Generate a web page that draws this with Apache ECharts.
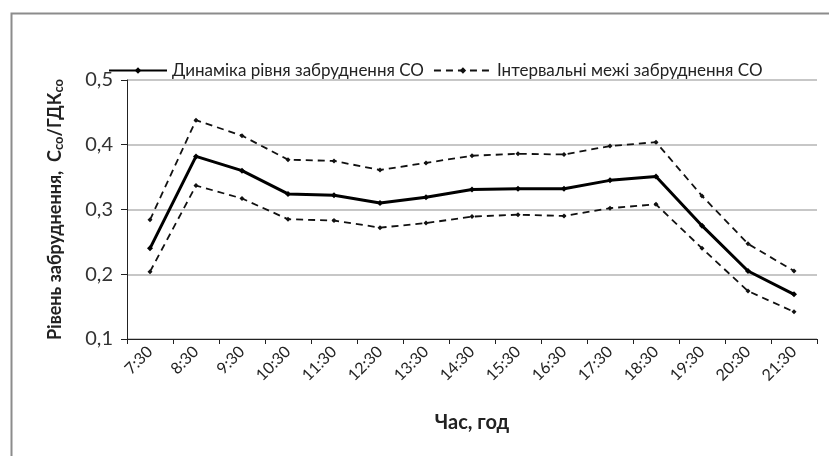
<!DOCTYPE html>
<html lang="uk">

<head>
    <meta charset="UTF-8">
    <title>Динаміка рівня забруднення СО</title>
    <style>
        html, body { margin: 0; padding: 0; background: #fff; }
        #chart { width: 829px; height: 456px; }
    </style>
</head>

<body>
    <div id="chart"></div>
</body>

<script type="text/javascript" src="https://cdn.jsdelivr.net/npm/echarts@6/dist/echarts.min.js"></script>

<script type="text/javascript">
    // час спостереження
    var hours = ['7:30', '8:30', '9:30', '10:30', '11:30', '12:30', '13:30', '14:30',
        '15:30', '16:30', '17:30', '18:30', '19:30', '20:30', '21:30'];
    // середній рівень, Cco/ГДКco
    var mainLevel = [0.240, 0.382, 0.360, 0.324, 0.322, 0.310, 0.319, 0.331,
        0.332, 0.332, 0.345, 0.351, 0.275, 0.205, 0.169];
    // верхня межа інтервалу
    var upperLevel = [0.284, 0.438, 0.414, 0.377, 0.375, 0.361, 0.372, 0.383,
        0.386, 0.385, 0.398, 0.404, 0.321, 0.247, 0.205];
    // нижня межа інтервалу
    var lowerLevel = [0.204, 0.337, 0.317, 0.285, 0.283, 0.272, 0.279, 0.289,
        0.292, 0.290, 0.302, 0.308, 0.240, 0.174, 0.142];

    var mainName = 'Динаміка рівня забруднення СО';
    var bandName = 'Інтервальні межі забруднення СО';
    var font = 'Lato, "Open Sans", sans-serif';

    var myChart = echarts.init(document.getElementById('chart'));

    var dashed = function(data) {
        return {
            name: bandName,
            type: 'line',
            data: data,
            symbol: 'diamond',
            symbolSize: 5,
            z: 2,
            lineStyle: { color: '#111', width: 1.8, type: [7, 5] },
            itemStyle: { color: '#111' }
        };
    };

    var option = {
        animation: false,
        textStyle: { fontFamily: font },
        graphic: [{
            type: 'rect',
            left: 9,
            top: 11,
            shape: { width: 900, height: 500 },
            style: { fill: 'none', stroke: '#8c8c8c', lineWidth: 2 },
            silent: true
        }],
        legend: {
            left: 103,
            top: 57,
            itemGap: 9,
            itemWidth: 58,
            itemHeight: 8,
            textStyle: { fontFamily: font, fontSize: 17, color: '#222' },
            data: [mainName, bandName]
        },
        grid: { left: 127, right: 12, top: 80, bottom: 117 },
        xAxis: {
            type: 'category',
            data: hours,
            boundaryGap: true,
            name: 'Час, год',
            nameLocation: 'middle',
            nameGap: 74,
            nameTextStyle: { fontFamily: font, fontSize: 20, fontWeight: 'bold', color: '#222' },
            axisLine: { lineStyle: { color: '#222', width: 1 } },
            axisTick: { show: true, length: 5, lineStyle: { color: '#222' } },
            axisLabel: { rotate: 45, margin: 10, fontSize: 16, color: '#222', fontFamily: font, interval: 0 }
        },
        yAxis: {
            type: 'value',
            min: 0.1,
            max: 0.5,
            interval: 0.1,
            name: 'Рівень забруднення,  С{s|со}/ГДК{s|со}',
            nameLocation: 'middle',
            nameGap: 62,
            nameTextStyle: {
                fontFamily: font, fontSize: 18, fontWeight: 'bold', color: '#222',
                rich: {
                    s: { fontFamily: font, fontSize: 13, fontWeight: 'bold', color: '#222', verticalAlign: 'bottom', padding: [7, 0, 0, 0] }
                }
            },
            axisLine: { show: true, lineStyle: { color: '#222', width: 1 } },
            axisTick: { show: true, length: 6, lineStyle: { color: '#222' } },
            axisLabel: {
                fontSize: 20, color: '#333', margin: 14, fontFamily: font,
                formatter: function(v) { return v.toFixed(1).replace('.', ','); }
            },
            splitLine: { lineStyle: { color: '#b4b4b4', width: 1.5 } }
        },
        series: [{
            name: mainName,
            type: 'line',
            data: mainLevel,
            symbol: 'diamond',
            symbolSize: 6,
            z: 3,
            lineStyle: { color: '#000', width: 3 },
            itemStyle: { color: '#000' }
        }, dashed(upperLevel), dashed(lowerLevel)]
    };

    myChart.setOption(option);
</script>

</html>
